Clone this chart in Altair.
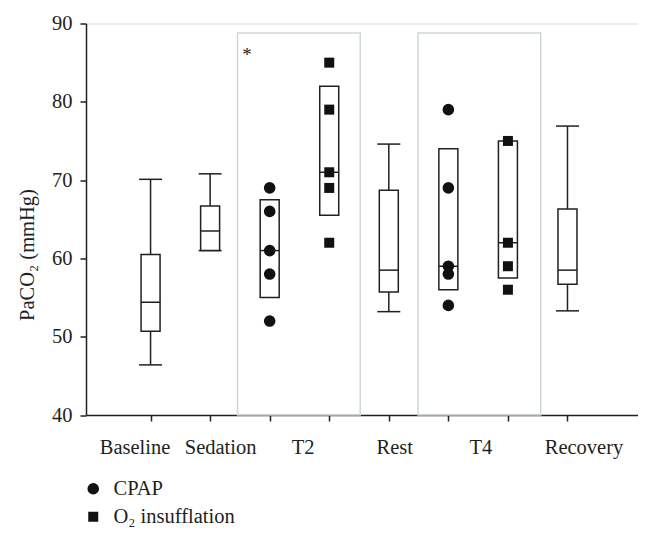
import altair as alt
import pandas as pd

# ---- data ----
slots = ["Baseline", "Sedation", "T2 CPAP", "T2 O2", "Rest", "T4 CPAP", "T4 O2", "Recovery"]
tick_labels = ["Baseline", "Sedation", "T2", "", "Rest", "T4", "", "Recovery"]

box_low = [46.4, 61.0, None, None, 53.2, None, None, 53.3]
box_q1 = [50.7, 61.0, 55.0, 65.5, 55.7, 56.0, 57.5, 56.7]
box_median = [54.4, 63.5, 61.0, 71.0, 58.5, 59.0, 62.0, 58.5]
box_q3 = [60.5, 66.7, 67.5, 82.0, 68.7, 74.0, 75.0, 66.3]
box_high = [70.1, 70.8, None, None, 74.6, None, None, 76.9]

groups = ["CPAP", "O₂ insufflation"]
t2_cpap = [69, 66, 61, 58, 52]
t2_o2 = [85, 79, 71, 69, 62]
t4_cpap = [79, 69, 59, 58, 54]
t4_o2 = [75, 62, 59, 56]

# highlighted periods (x in slot units, y in mmHg)
hl_start = [2.46, 5.49]
hl_end = [4.52, 7.55]
hl_bottom = [40, 40]
hl_top = [88.8, 88.8]

star_x = [2.62]
star_y = [86.0]

# ---- tables ----
pos = list(range(1, len(slots) + 1))
box_df = pd.DataFrame({
    "slot": slots, "pos": pos, "low": box_low, "q1": box_q1,
    "median": box_median, "q3": box_q3, "high": box_high,
})

pts_rows = []
for p, vals, g in [(3, t2_cpap, groups[0]), (4, t2_o2, groups[1]),
                   (6, t4_cpap, groups[0]), (7, t4_o2, groups[1])]:
    for v in vals:
        pts_rows.append({"pos": p, "value": v, "group": g})
pts_df = pd.DataFrame(pts_rows)

hl_df = pd.DataFrame({"x1": hl_start, "x2": hl_end, "y1": hl_bottom, "y2": hl_top})
star_df = pd.DataFrame({"x": star_x, "y": star_y, "t": ["*"]})

INK = "#231f20"
FONT = "Liberation Serif"
FS = 20.5
XDOM = [0, 9.1]
YDOM = [40, 90]

# horizontal nudges (px) of the category labels relative to their ticks
label_nudge = [-16, 10, 33, 0, 5.5, 32, 0, 16]

expr = "''"
for p, lab in reversed(list(zip(pos, tick_labels))):
    expr = f"datum.value == {p} ? '{lab}' : ({expr})"

offset_cond = [{"test": f"datum.value == {p}", "value": n} for p, n in zip(pos, label_nudge) if n != 0]

x_axis = alt.Axis(
    values=pos, labelExpr=expr, title=None, grid=False,
    labelOverlap=False, labelFlush=False, labelBound=False,
    labelOffset={"condition": offset_cond, "value": 0},
    tickSize=6, tickWidth=1.5, tickColor=INK, domainColor=INK, domainWidth=1.5,
    labelFont=FONT, labelFontSize=FS, labelColor=INK, labelPadding=16,
)
y_axis = alt.Axis(
    values=[40, 50, 60, 70, 80, 90], title="PaCO₂ (mmHg)", grid=False,
    tickSize=6, tickWidth=1.5, tickColor=INK, domainColor=INK, domainWidth=1.5,
    labelFont=FONT, labelFontSize=FS, labelColor=INK, labelPadding=8,
    titleFont=FONT, titleFontSize=FS, titleFontWeight="normal", titleColor=INK,
    titleX=-49, titleY=231, titleBaseline="bottom",
)

xs = alt.Scale(domain=XDOM, nice=False, zero=False)
ys = alt.Scale(domain=YDOM, nice=False, zero=False)

hl = alt.Chart(hl_df).mark_rect(fillOpacity=0, stroke="#cdd7d7", strokeWidth=1.5).encode(
    x=alt.X("x1:Q", scale=xs, axis=x_axis), x2="x2:Q",
    y=alt.Y("y1:Q", scale=ys, axis=y_axis), y2="y2:Q",
)

base = alt.Chart(box_df)
valid = "isValid(datum.low) && datum.low !== null"
whisk_lo = base.transform_filter(valid).mark_rule(color=INK, strokeWidth=1.5).encode(
    x=alt.X("pos:Q", scale=xs), y=alt.Y("low:Q", scale=ys), y2="q1:Q")
whisk_hi = base.transform_filter(valid).mark_rule(color=INK, strokeWidth=1.5).encode(
    x=alt.X("pos:Q", scale=xs), y=alt.Y("q3:Q", scale=ys), y2="high:Q")
cap_lo = base.transform_filter(valid).mark_tick(orient="horizontal", size=23, thickness=1.5, color=INK, opacity=1).encode(
    x=alt.X("pos:Q", scale=xs), y=alt.Y("low:Q", scale=ys))
cap_hi = base.transform_filter(valid).mark_tick(orient="horizontal", size=23, thickness=1.5, color=INK, opacity=1).encode(
    x=alt.X("pos:Q", scale=xs), y=alt.Y("high:Q", scale=ys))
box = base.mark_bar(size=19, fill="white", stroke=INK, strokeWidth=1.5).encode(
    x=alt.X("pos:Q", scale=xs), y=alt.Y("q1:Q", scale=ys), y2="q3:Q")
med = base.mark_tick(orient="horizontal", size=19, thickness=1.5, color=INK, opacity=1).encode(
    x=alt.X("pos:Q", scale=xs), y=alt.Y("median:Q", scale=ys))

legend = alt.Legend(title=None, orient="none", legendX=-3, legendY=455,
                    labelFont=FONT, labelFontSize=FS, labelColor=INK,
                    rowPadding=7, symbolFillColor="#111111", symbolStrokeWidth=0,
                    labelOffset=10)

points = alt.Chart(pts_df).mark_point(filled=True, opacity=1, color="#111111").encode(
    x=alt.X("pos:Q", scale=xs), y=alt.Y("value:Q", scale=ys),
    shape=alt.Shape("group:N", scale=alt.Scale(domain=groups, range=["circle", "square"]), legend=legend),
    size=alt.Size("group:N", scale=alt.Scale(domain=groups, range=[135, 100]), legend=legend),
)

star = alt.Chart(star_df).mark_text(font=FONT, fontSize=19, color=INK, baseline="middle").encode(
    x=alt.X("x:Q", scale=xs), y=alt.Y("y:Q", scale=ys), text="t:N")

chart = alt.layer(hl, whisk_lo, whisk_hi, cap_lo, cap_hi, box, med, points, star).properties(
    width=552, height=391.5,
    autosize=alt.AutoSizeParams(type="none"),
    padding={"left": 78, "top": 15.5, "right": 0, "bottom": 116},
).configure_view(stroke=None).configure(background="white")

chart.save("out.html", embed_options={"renderer": "svg", "actions": False})
